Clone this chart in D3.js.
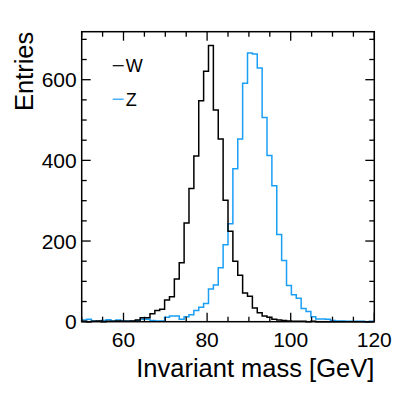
<!DOCTYPE html>
<html>
<head>
<meta charset="utf-8">
<script src="https://cdn.jsdelivr.net/npm/d3@7"></script>
<style>
  body { margin: 0; background: #fff; }
  svg { display: block; font-family: "Liberation Sans", Arial, sans-serif; }
</style>
</head>
<body>
<svg class="massPlot"></svg>
<script>
// histogram range, 60 bins from 50 to 120 GeV
var massRange = [50, 120];
var yRange = [0, 719];

var wCounts = [1, 0, 1, 2, 0, 1, 1, 2, 1, 1, 2, 4, 10, 10, 20, 28, 31, 54, 62, 106,
  146, 245, 330, 411, 548, 621, 685, 525, 453, 301, 224, 150, 115, 71, 63, 34, 22, 14, 11, 6,
  4, 3, 2, 1, 1, 1, 0, 1, 0, 0, 0, 0, 0, 0, 0, 0, 0, 0, 0, 0];

var zCounts = [4, 6, 2, 1, 3, 5, 2, 4, 2, 2, 1, 3, 6, 6, 3, 2, 2, 11, 14, 14,
  6, 12, 17, 28, 36, 45, 81, 91, 134, 191, 243, 379, 453, 591, 666, 664, 629, 506, 412, 337,
  216, 152, 90, 67, 58, 33, 25, 12, 7, 7, 6, 3, 2, 2, 1, 1, 1, 1, 0, 1];

var seriesNames = ["W", "Z"];
var seriesColors = ["#000000", "#1a9ff5"];

var xTickLabels = [60, 80, 100, 120];
var yTickLabels = [0, 200, 400, 600];

function massPlot() {
  var width = 407, height = 393;
  var margin = {top: 31.7, right: 32.7, bottom: 71.3, left: 81.7};
  var w = width - margin.left - margin.right,
      h = height - margin.top - margin.bottom;

  var svg = d3.select(".massPlot")
      .attr("width", width)
      .attr("height", height);

  var g = svg.append("g")
      .attr("transform", "translate(" + margin.left + "," + margin.top + ")");

  var x = d3.scaleLinear().domain(massRange).range([0, w]);
  var y = d3.scaleLinear().domain(yRange).range([h, 0]);

  var nBins = wCounts.length;
  var binW = (massRange[1] - massRange[0]) / nBins;

  function stepPath(counts) {
    var pts = [[x(massRange[0]), y(0)]];
    counts.forEach(function(c, i) {
      var lo = massRange[0] + i * binW;
      pts.push([x(lo), y(c)]);
      pts.push([x(lo + binW), y(c)]);
    });
    pts.push([x(massRange[1]), y(0)]);
    return d3.line()(pts);
  }

  var series = [zCounts, wCounts];
  var cols = [seriesColors[1], seriesColors[0]];
  series.forEach(function(s, k) {
    g.append("path")
        .attr("d", stepPath(s))
        .attr("fill", "none")
        .attr("stroke", cols[k])
        .attr("stroke-width", 1.5);
  });

  // axes: ticks inside on all four sides
  var xMinor = d3.range(50, 121, 5);
  var yMinor = d3.range(0, 701, 50);

  function tickLen(isMajor) { return isMajor ? 9 : 5; }

  xMinor.forEach(function(v) {
    var L = tickLen(v % 20 === 0);
    g.append("line").attr("x1", x(v)).attr("x2", x(v)).attr("y1", h).attr("y2", h - L)
        .attr("stroke", "#000").attr("stroke-width", 1.3);
    g.append("line").attr("x1", x(v)).attr("x2", x(v)).attr("y1", 0).attr("y2", L)
        .attr("stroke", "#000").attr("stroke-width", 1.3);
  });
  yMinor.forEach(function(v) {
    var L = tickLen(v % 200 === 0);
    g.append("line").attr("x1", 0).attr("x2", L).attr("y1", y(v)).attr("y2", y(v))
        .attr("stroke", "#000").attr("stroke-width", 1.3);
    g.append("line").attr("x1", w).attr("x2", w - L).attr("y1", y(v)).attr("y2", y(v))
        .attr("stroke", "#000").attr("stroke-width", 1.3);
  });

  g.append("rect")
      .attr("width", w).attr("height", h)
      .attr("fill", "none").attr("stroke", "#000").attr("stroke-width", 1.5);

  g.selectAll(".xlab")
      .data(xTickLabels)
    .enter().append("text")
      .attr("x", function(d) { return x(d); })
      .attr("y", h + 25)
      .attr("text-anchor", "middle")
      .style("font-size", "21px")
      .text(function(d) { return d; });

  g.selectAll(".ylab")
      .data(yTickLabels)
    .enter().append("text")
      .attr("x", -5)
      .attr("y", function(d) { return y(d); })
      .attr("dy", "0.36em")
      .attr("text-anchor", "end")
      .style("font-size", "21px")
      .text(function(d) { return d; });

  g.append("text")
      .attr("x", w)
      .attr("y", h + 55)
      .attr("text-anchor", "end")
      .style("font-size", "25.5px")
      .text("Invariant mass [GeV]");

  g.append("text")
      .attr("transform", "translate(-48.5,0) rotate(-90)")
      .attr("text-anchor", "end")
      .style("font-size", "25.5px")
      .text("Entries");

  // legend
  seriesNames.forEach(function(name, i) {
    var ly = 34 + i * 33.5;
    g.append("line")
        .attr("x1", 31).attr("x2", 42).attr("y1", ly).attr("y2", ly)
        .attr("stroke", seriesColors[i]).attr("stroke-width", 1.2);
    g.append("text")
        .attr("x", 44).attr("y", ly)
        .attr("dy", "0.36em")
        .style("font-size", "18px")
        .text(name);
  });
}

massPlot();
</script>
</body>
</html>
